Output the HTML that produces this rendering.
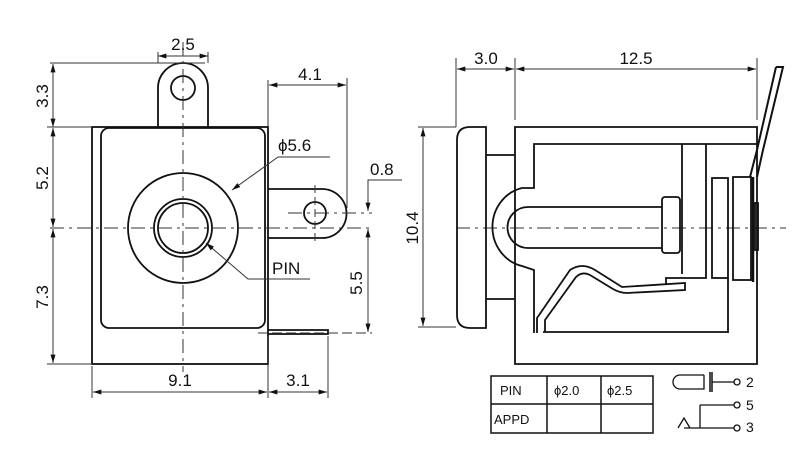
<!DOCTYPE html>
<html><head><meta charset="utf-8"><style>
html,body{margin:0;padding:0;background:#fff;}
svg{display:block;}
text{font-family:"Liberation Sans",sans-serif;fill:#111;}
</style></head><body>
<svg width="800" height="458" viewBox="0 0 800 458" xmlns="http://www.w3.org/2000/svg">
<defs>
<marker id="a" viewBox="0 0 10 6" refX="10" refY="3" markerWidth="11" markerHeight="5" orient="auto-start-reverse" markerUnits="userSpaceOnUse"><path d="M0,0 L10,3 L0,6 z" fill="#111"/></marker>
</defs>
<g fill="none" stroke="#111" stroke-width="1.8">
<path d="M158,127 L158,88 A25,25 0 0 1 208,88 L208,127"/>
<circle cx="183" cy="88" r="12"/>
<rect x="92" y="127" width="176" height="237"/>
<rect x="101" y="128" width="164" height="200" rx="8"/>
<circle cx="183" cy="228" r="55"/>
<circle cx="183" cy="228" r="29"/>
<circle cx="183" cy="228" r="25"/>
<path d="M268,189 L322,189 A24.5,24.5 0 0 1 322,238 L268,238"/>
<circle cx="315" cy="213" r="11"/>
<path d="M268,330 L328,330 L328,334 L268,334"/>
</g>
<g fill="none" stroke="#333" stroke-width="1">
<path d="M50,228 L372,228" stroke-dasharray="14,5,3,5"/>
<path d="M183,42 L183,372" stroke-dasharray="14,5,3,5"/>
<path d="M288,213 L372,213" stroke-dasharray="14,5,3,5"/>
<path d="M315,185 L315,245" stroke-dasharray="8,4"/>
<path d="M258,333 L372,333" stroke-dasharray="10,4"/>
<path d="M50,63 L205,63"/>
<path d="M47,127 L92,127"/>
<path d="M47,364 L92,364"/>
<path d="M53,64 L53,127" marker-start="url(#a)" marker-end="url(#a)"/>
<path d="M53,128 L53,227" marker-start="url(#a)" marker-end="url(#a)"/>
<path d="M53,229 L53,363" marker-start="url(#a)" marker-end="url(#a)"/>
<path d="M158,52 L158,63 M208,52 L208,63"/>
<path d="M158,56 L208,56" marker-start="url(#a)" marker-end="url(#a)"/>
<path d="M268,80 L268,127 M347,78 L347,208"/>
<path d="M269,85 L346,85" marker-start="url(#a)" marker-end="url(#a)"/>
<path d="M330,157 L278,157 L232,190" marker-end="url(#a)"/>
<path d="M310,279 L248,279 L206,243" marker-end="url(#a)"/>
<path d="M402,180 L368,180 L368,211" marker-end="url(#a)"/>
<path d="M368,229 L368,332" marker-start="url(#a)" marker-end="url(#a)"/>
<path d="M92,366 L92,398 M268,336 L268,398 M328,336 L328,398"/>
<path d="M93,392 L267,392" marker-start="url(#a)" marker-end="url(#a)"/>
<path d="M269,392 L327,392" marker-start="url(#a)" marker-end="url(#a)"/>
<path d="M456,58 L456,127 M515,58 L515,120 M757,58 L757,120"/>
<path d="M457,69 L514,69" marker-start="url(#a)" marker-end="url(#a)"/>
<path d="M516,69 L756,69" marker-start="url(#a)" marker-end="url(#a)"/>
<path d="M418,127 L456,127 M418,327 L456,327"/>
<path d="M423,128 L423,326" marker-start="url(#a)" marker-end="url(#a)"/>
<path d="M456,228 L786,228" stroke-dasharray="14,5,3,5"/>
</g>
<g font-size="17">
<text x="183" y="50" text-anchor="middle">2.5</text>
<text x="310" y="80" text-anchor="middle">4.1</text>
<text x="278" y="151">ϕ5.6</text>
<text x="370" y="175">0.8</text>
<text x="272" y="274">PIN</text>
<text x="180" y="386" text-anchor="middle">9.1</text>
<text x="298" y="386" text-anchor="middle">3.1</text>
<text x="486" y="64" text-anchor="middle">3.0</text>
<text x="636" y="64" text-anchor="middle">12.5</text>
<text transform="translate(48,96) rotate(-90)" text-anchor="middle">3.3</text>
<text transform="translate(48,178) rotate(-90)" text-anchor="middle">5.2</text>
<text transform="translate(48,297) rotate(-90)" text-anchor="middle">7.3</text>
<text transform="translate(362,283) rotate(-90)" text-anchor="middle">5.5</text>
<text transform="translate(418,228) rotate(-90)" text-anchor="middle">10.4</text>
</g>
<g fill="none" stroke="#111" stroke-width="1.8">
<path d="M486,127 L470,127 Q457,127 457,140 L457,315 Q457,328 470,328 L486,328 Z"/>
<path d="M486,155 L515,155 M486,299 L515,299"/>
<path d="M515,364 L515,127 L757,127 L757,364 Z"/>
<path d="M757,144 L534,144 L534,188 L522,188 A38,40 0 0 0 522,266 L534,270 L534,333"/>
<path d="M662,207 L528,207 A20.5,20.5 0 0 0 528,248 L662,248"/>
<rect x="662" y="197" width="18" height="56" rx="3"/>
<path d="M682,144 L682,274 M706,144 L706,278 L666,278 L666,284"/>
<rect x="712" y="178" width="16" height="100"/>
<path d="M728,278 L728,333"/>
<rect x="733" y="177" width="18" height="103"/>
<path d="M753,177 L753,282" stroke-width="2.5"/>
<rect x="755" y="203" width="3" height="47"/>
<path d="M750,177 L757,150 L776,67 M757,177 L763,150 L783,67 L776,67" stroke-width="2"/>
<path d="M543,332 L728,332"/>
<path d="M537,333 L537,318 L570,270 Q582,262 595,270 L622,287 L685,283 L685,290 L627,293 Q620,293 613,289 L590,275 Q582,271 576,277 L545,320 L545,332" />
<rect x="491" y="376" width="162" height="57" stroke-width="1.5"/>
<path d="M491,404 L653,404 M547,376 L547,433 M601,376 L601,433" stroke-width="1.5"/>
<path d="M710,372 L710,392 M712,372 L712,392" stroke-width="1.5"/>
<path d="M704,375 L680,375 A7,7 0 0 0 680,389 L704,389 L704,375" stroke-width="1.3"/>
<path d="M712,382 L734,382 M700,405 L734,405 M700,405 L700,428 M684,428 L734,428 M678,428 L684,418 L690,428" stroke-width="1.3"/>
<circle cx="737" cy="382" r="3" stroke-width="1.3"/>
<circle cx="737" cy="405" r="3" stroke-width="1.3"/>
<circle cx="737" cy="428" r="3" stroke-width="1.3"/>
</g>
<g font-size="13">
<text x="500" y="395">PIN</text>
<text x="554" y="395">ϕ2.0</text>
<text x="607" y="395">ϕ2.5</text>
<text x="494" y="424">APPD</text>
<text x="746" y="387" font-size="14">2</text>
<text x="746" y="410" font-size="14">5</text>
<text x="746" y="432" font-size="14">3</text>
</g>
</svg>
</body></html>
